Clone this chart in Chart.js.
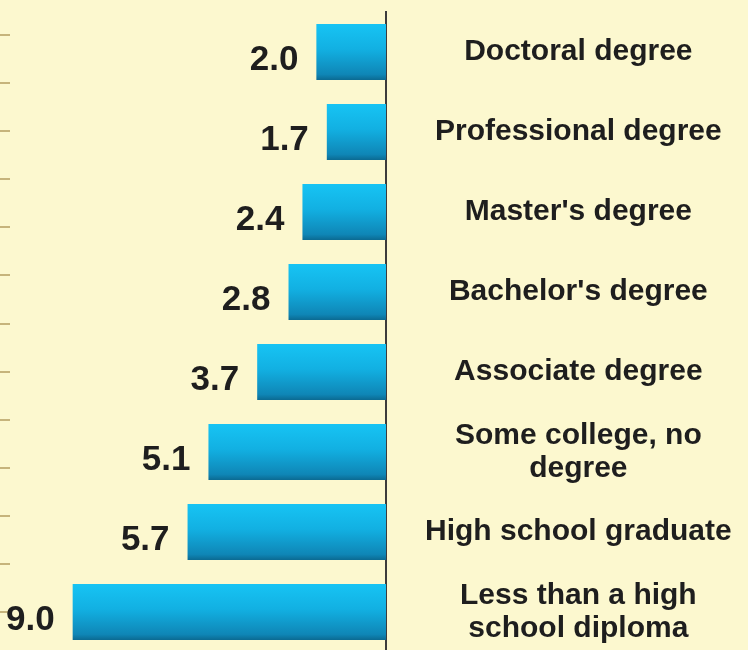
<!DOCTYPE html>
<html>
<head>
<meta charset="utf-8">
<script src="https://cdn.jsdelivr.net/npm/chart.js@4/dist/chart.umd.min.js"></script>
<style>
  html, body { margin: 0; padding: 0; overflow: hidden; background: #fcf8cf; }
  #wrap { position: relative; width: 748px; height: 652px; }
</style>
</head>
<body>
<div id="wrap"><canvas id="edu"></canvas></div>
<script>
var categories = [
  'Doctoral degree',
  'Professional degree',
  "Master's degree",
  "Bachelor's degree",
  'Associate degree',
  ['Some college, no', 'degree'],
  'High school graduate',
  ['Less than a high', 'school diploma']
];
var rates = [2.0, 1.7, 2.4, 2.8, 3.7, 5.1, 5.7, 9.0];
// the little marks down the left edge
var edgeTicks = [0, 1, 2, 3, 4, 5, 6, 7, 8, 9, 10, 11, 12];

var BAR_PCT = 0.7;
var TEXT = '#1e1e1e';

function barFill(c) {
  var chart = c.chart;
  if (!chart.chartArea || !chart.scales.y) return '#12a6d8';
  var y = chart.scales.y.getPixelForValue(c.dataIndex);
  var half = chart.scales.y.height / categories.length * BAR_PCT / 2;
  var g = chart.ctx.createLinearGradient(0, y - half, 0, y + half);
  g.addColorStop(0, '#17c4f4');
  g.addColorStop(0.45, '#12b0e2');
  g.addColorStop(0.9, '#0f86b6');
  g.addColorStop(1, '#0b6a92');
  return g;
}

// value numbers to the left of each bar
var valueLabels = {
  id: 'valueLabels',
  afterDatasetsDraw: function(chart) {
    var ctx = chart.ctx;
    var meta = chart.getDatasetMeta(0);
    ctx.save();
    ctx.font = 'bold 35px "Liberation Sans", Arial, sans-serif';
    ctx.fillStyle = TEXT;
    ctx.textAlign = 'right';
    ctx.textBaseline = 'middle';
    meta.data.forEach(function(bar, i) {
      ctx.fillText(rates[i].toFixed(1), bar.x - 18, bar.y + 8);
    });
    ctx.restore();
  }
};

new Chart(document.getElementById('edu'), {
  type: 'bar',
  data: {
    labels: categories,
    datasets: [{
      data: rates,
      backgroundColor: barFill,
      borderWidth: 0,
      barPercentage: BAR_PCT,
      categoryPercentage: 1
    }]
  },
  options: {
    indexAxis: 'y',
    responsive: true,
    maintainAspectRatio: false,
    animation: false,
    layout: { padding: { top: 12, bottom: 0, left: 0, right: 0 } },
    plugins: { legend: { display: false }, tooltip: { enabled: false } },
    scales: {
      x: {
        display: false,
        reverse: true,
        min: 0,
        max: 10.8
      },
      y: {
        position: 'right',
        grid: { display: false, drawTicks: false },
        border: { display: true, color: '#3c3c3c', width: 2 },
        ticks: {
          color: TEXT,
          autoSkip: false,
          crossAlign: 'center',
          padding: 39,
          font: { family: '"Liberation Sans", Arial, sans-serif', size: 30, weight: 'bold', lineHeight: 1.1 }
        },
        afterFit: function(s) {
          s.width = 362;
          s.paddingTop = 0;
          s.paddingBottom = 0;
        }
      },
      y2: {
        position: 'left',
        type: 'linear',
        reverse: true,
        offset: false,
        bounds: 'data',
        min: -0.478,
        max: 12.828,
        grid: { offset: false, drawOnChartArea: false, drawTicks: true, tickLength: 10, color: '#c6b47c', lineWidth: 2 },
        border: { display: false },
        ticks: { display: false, autoSkip: false },
        afterBuildTicks: function(s) {
          s.min = -0.478;
          s.max = 12.828;
          s.ticks = edgeTicks.map(function(v) { return { value: v }; });
        },
        afterFit: function(s) {
          s.paddingTop = 0;
          s.paddingBottom = 0;
        }
      }
    }
  },
  plugins: [valueLabels]
});
</script>
</body>
</html>
